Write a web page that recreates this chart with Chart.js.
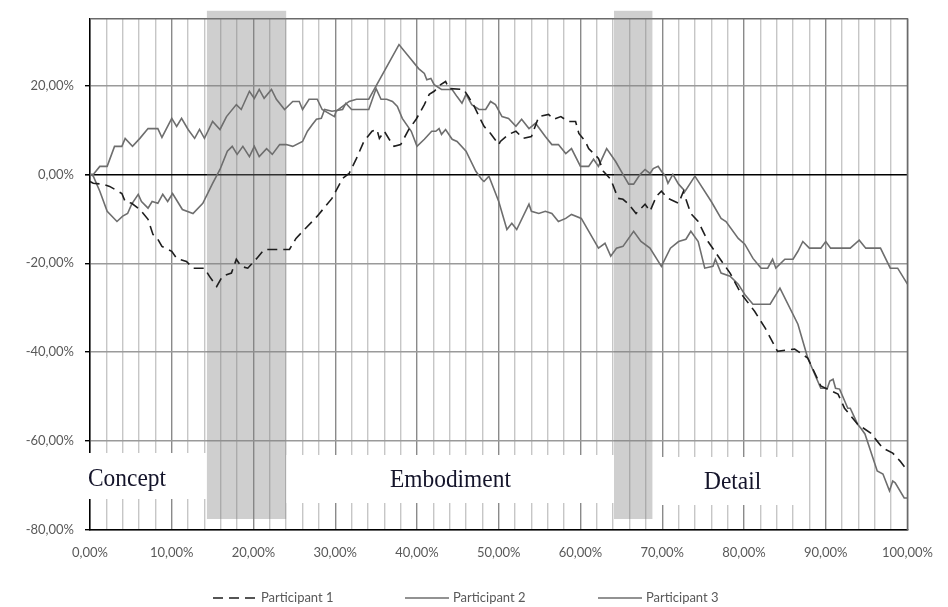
<!DOCTYPE html>
<html lang="en">
<head>
<meta charset="utf-8">
<title>Participants chart</title>
<script src="https://cdn.jsdelivr.net/npm/chart.js"></script>
<style>
  html, body { margin: 0; padding: 0; background: #fff; }
</style>
</head>
<body>
<canvas id="myChart" width="948" height="607"></canvas>
<script>
// series values (x = progress %, y = %)
const p1X = [0,0.4,1.5,2.4,3.9,4.3,5.1,6.1,7.1,7.7,8.3,8.8,10.0,10.6,11.8,12.6,14.0,14.6,15.5,16.2,17.3,17.9,18.5,19.3,20.4,21.3,24.4,25.2,27.8,29.6,30.9,31.7,32.6,33.5,34.5,35.1,35.4,36.0,36.6,37.2,38.0,39.0,39.9,40.9,41.5,42.1,42.9,43.5,43.9,45.7,46.3,47.0,47.6,48.2,49.0,50.0,50.2,51.2,52.1,53.0,54.0,54.9,56.1,56.7,57.6,58.5,59.4,59.8,60.6,61.0,62.2,62.8,63.7,64.6,65.2,65.9,66.8,67.9,68.5,69.3,69.9,70.7,72.0,72.6,72.9,73.5,74.4,75.6,77.1,78.3,79.6,81.3,82.6,84.1,86.2,87.8,89.4,91.5,92.3,93.9,95.5,97.0,98.2,99.1,100];
const p1Y = [-1.6,-2.0,-2.2,-2.7,-4.3,-6.1,-6.5,-7.9,-10.1,-13.5,-14.6,-16.2,-17.3,-18.9,-19.6,-21.1,-21.1,-22.9,-25.2,-22.9,-22.2,-19.1,-20.7,-21.1,-18.9,-16.9,-16.9,-14.4,-9.4,-5.4,-0.9,0.2,3.6,7.4,9.7,10.1,8.1,9.7,7.9,6.3,6.7,10.1,12.4,15.7,18.0,18.7,20.2,20.9,19.3,19.1,17.5,15.3,13.0,10.8,9.2,6.7,7.4,9.0,9.7,8.1,8.5,13.0,13.5,12.4,13.0,11.9,11.9,9.2,7.4,5.8,3.6,0.7,-1.1,-5.4,-5.6,-6.7,-8.8,-6.7,-8.3,-4.9,-3.8,-5.4,-6.5,-3.8,-5.6,-8.8,-10.6,-15.1,-19.1,-22.2,-26.7,-30.8,-34.6,-39.8,-39.3,-41.3,-47.6,-49.4,-52.6,-56.2,-58.2,-61.6,-62.7,-64.5,-66.7];

const p2X = [0,0.4,1.2,2.1,3.3,4.0,4.6,5.1,5.9,6.3,7.1,7.6,8.3,8.9,9.5,10.1,10.7,11.3,12.6,13.8,15.0,15.9,16.8,17.4,18.0,18.7,19.5,20.1,20.7,21.6,22.3,23.2,24.0,24.8,26.0,26.6,27.2,27.7,28.3,28.7,29.6,30.9,31.3,32.0,34.1,35.0,35.6,36.3,37.0,37.6,38.2,39.3,40.0,40.9,41.8,42.3,42.7,43.0,43.5,44.3,44.9,46.0,47.2,47.9,48.2,48.8,50.0,51.0,51.6,52.2,53.7,54.0,54.9,55.7,56.5,57.3,58.2,58.9,60.1,62.2,63.0,63.7,64.4,65.2,66.5,67.4,68.5,69.9,71.0,72.0,72.9,73.5,74.4,75.2,76.2,76.5,77.2,78.3,79.3,80.1,81.1,83.2,84.4,86.6,87.8,89.4,90.2,90.5,90.9,91.2,91.7,92.7,93.0,93.9,94.3,94.8,96.3,97.0,97.8,98.2,98.5,99.6,100];
const p2Y = [0,-0.4,-3.8,-8.3,-10.6,-9.4,-8.8,-6.7,-4.5,-6.1,-7.6,-6.1,-6.5,-4.5,-6.1,-4.3,-6.1,-7.9,-8.8,-6.5,-2.0,1.1,5.2,6.3,4.5,6.3,4.0,6.3,4.0,5.8,4.5,6.7,6.7,6.3,7.4,9.7,11.2,12.4,12.6,14.6,14.2,14.6,16.0,14.6,14.6,19.3,16.9,16.9,16.4,15.3,12.6,9.7,6.3,7.9,9.7,9.7,10.3,9.0,10.1,7.9,7.4,5.2,0.7,-1.1,-1.6,-0.4,-6.1,-12.4,-11.0,-12.4,-6.7,-8.3,-8.8,-8.3,-8.8,-10.6,-9.9,-9.0,-9.9,-16.6,-15.5,-18.4,-16.6,-16.2,-12.8,-15.1,-16.6,-20.7,-16.6,-15.1,-14.6,-12.8,-15.1,-21.1,-20.7,-19.1,-22.2,-22.9,-24.7,-27.0,-29.2,-29.2,-25.6,-33.7,-41.3,-48.1,-48.1,-46.5,-46.1,-48.1,-48.3,-52.6,-52.6,-56.2,-57.1,-58.4,-66.7,-67.4,-71.2,-69.0,-69.4,-72.8,-72.8];

const p3X = [0,0.4,1.2,2.1,3.0,3.9,4.3,5.2,6.1,7.1,8.3,8.8,10.0,10.6,11.2,12.0,12.8,13.4,14.0,15.0,15.9,16.7,17.9,18.5,19.5,20.1,20.7,21.3,22.2,22.8,23.8,24.8,25.6,26.0,26.8,27.8,28.4,29.9,30.1,31.7,32.6,34.1,37.8,40.2,40.9,41.2,41.7,42.1,43.0,44.3,44.9,45.5,46.0,46.7,47.6,48.4,49.0,49.6,50.4,51.2,52.1,52.8,53.7,54.5,55.7,56.5,57.3,58.2,58.9,60.0,61.0,61.6,62.2,63.2,64.3,65.2,65.9,66.5,67.3,67.9,68.5,68.9,69.5,69.9,70.4,70.7,71.3,72.0,72.8,74.0,76.0,77.2,77.8,79.3,80.1,81.1,82.1,82.9,83.5,83.9,85.0,86.0,86.6,87.2,88.0,89.4,90.0,90.6,93.0,94.1,94.9,96.7,97.9,98.8,100];
const p3Y = [0,0,1.8,1.8,6.3,6.3,8.1,6.3,8.1,10.3,10.3,8.3,12.6,10.8,12.6,10.1,8.1,10.1,8.1,11.9,10.1,13.0,15.7,14.6,18.7,17.1,19.1,17.1,19.1,16.9,14.6,16.4,16.4,14.6,16.9,16.9,14.6,13.0,14.2,16.4,16.9,16.9,29.2,23.8,22.7,21.3,21.6,20.2,19.1,19.1,17.5,16.0,18.0,15.7,14.6,14.6,16.4,15.7,13.0,12.6,10.8,12.4,10.3,11.5,8.5,6.7,6.7,4.7,5.8,1.8,1.8,3.4,1.8,5.8,2.9,0,-2.2,-2.2,0,1.1,0.2,1.3,1.8,0.7,-0.4,-2.0,0,-2.2,-3.8,-0.4,-6.1,-9.9,-10.6,-14.4,-15.7,-18.9,-21.1,-21.1,-19.1,-21.1,-19.1,-19.1,-17.3,-15.1,-16.6,-16.6,-15.1,-16.6,-16.6,-14.8,-16.6,-16.6,-21.1,-21.1,-24.7];

const seriesNames = ['Participant 1', 'Participant 2', 'Participant 3'];
const yTicks = [-80, -60, -40, -20, 0, 20];

// phases: shaded transition bands and the phase names
const bandStart = [14.3, 64.1];
const bandEnd = [24.0, 68.8];
const phaseNames = ['Concept', 'Embodiment', 'Detail'];

const pct = v => v.toFixed(2).replace('.', ',') + '%';
const pts = (xs, ys) => xs.map((x, i) => ({ x: x, y: ys[i] }));

const phasePlugin = {
    id: 'phases',
    beforeDatasetsDraw(chart) {
        const { ctx, chartArea: a, scales: { x } } = chart;
        ctx.save();
        // frame top / right
        ctx.strokeStyle = '#6a6a6a';
        ctx.lineWidth = 1.5;
        ctx.beginPath();
        ctx.moveTo(a.left, a.top);
        ctx.lineTo(a.right, a.top);
        ctx.lineTo(a.right, a.bottom);
        ctx.stroke();

        const s0 = x.getPixelForValue(bandStart[0]), e0 = x.getPixelForValue(bandEnd[0]);
        const s1 = x.getPixelForValue(bandStart[1]), e1 = x.getPixelForValue(bandEnd[1]);

        // white label boxes
        ctx.fillStyle = '#fff';
        ctx.fillRect(a.left - 5, a.bottom - 77, s0 - a.left + 5, 46);
        ctx.fillRect(e0, a.bottom - 75, s1 - e0, 48);
        ctx.fillRect(e1, a.bottom - 73, 146, 48);

        // shaded bands
        ctx.fillStyle = 'rgba(130,130,130,0.38)';
        ctx.fillRect(s0, a.top - 8, e0 - s0, a.bottom - a.top - 3);
        ctx.fillRect(s1, a.top - 8, e1 - s1, a.bottom - a.top - 3);

        // phase names
        ctx.fillStyle = '#14142a';
        ctx.font = '26px "Liberation Serif", serif';
        ctx.textBaseline = 'alphabetic';
        const put = (t, px, py) => {
            const w = ctx.measureText(t).width * 0.9;
            ctx.fillText(t, px, py, w);
        };
        put(phaseNames[0], a.left - 2, a.bottom - 44);
        put(phaseNames[1], 390, a.bottom - 43);
        put(phaseNames[2], 704, a.bottom - 41);
        ctx.restore();
    },
    afterDraw(chart) {
        // legend
        const { ctx } = chart;
        const items = [
            { x: 213, text: seriesNames[0], ds: chart.data.datasets[0] },
            { x: 405, text: seriesNames[1], ds: chart.data.datasets[1] },
            { x: 598, text: seriesNames[2], ds: chart.data.datasets[2] }
        ];
        const ly = 598;
        ctx.save();
        ctx.font = '13px Lato, sans-serif';
        ctx.textBaseline = 'middle';
        items.forEach(it => {
            ctx.strokeStyle = it.ds.borderColor;
            ctx.lineWidth = it.ds.borderWidth;
            ctx.setLineDash(it.ds.borderDash || []);
            ctx.beginPath();
            ctx.moveTo(it.x, ly);
            ctx.lineTo(it.x + 44, ly);
            ctx.stroke();
            ctx.setLineDash([]);
            ctx.fillStyle = '#595959';
            ctx.fillText(it.text, it.x + 48, ly);
        });
        ctx.restore();
    }
};

const ctx = document.getElementById('myChart').getContext('2d');
const myChart = new Chart(ctx, {
    type: 'line',
    data: {
        datasets: [{
            label: seriesNames[0],
            data: pts(p1X, p1Y),
            borderColor: '#1e1e1e',
            borderWidth: 1.6,
            borderDash: [10, 6],
            pointRadius: 0,
            tension: 0
        }, {
            label: seriesNames[1],
            data: pts(p2X, p2Y),
            borderColor: '#6e6e6e',
            borderWidth: 1.6,
            pointRadius: 0,
            tension: 0
        }, {
            label: seriesNames[2],
            data: pts(p3X, p3Y),
            borderColor: '#6e6e6e',
            borderWidth: 1.6,
            pointRadius: 0,
            tension: 0
        }]
    },
    options: {
        responsive: false,
        animation: false,
        layout: { padding: { top: 16, right: 35, left: 0, bottom: 0 } },
        scales: {
            x: {
                type: 'linear',
                min: 0,
                max: 100,
                afterFit: s => { s.height = 77; },
                border: { color: '#000', width: 1.5 },
                grid: {
                    drawTicks: false,
                    color: c => (c.tick && Math.abs(c.tick.value % 10) < 0.01) ? '#8a8a8a' : '#c6c6c6',
                    lineWidth: 1.4
                },
                ticks: {
                    stepSize: 2,
                    autoSkip: false,
                    maxTicksLimit: 60,
                    maxRotation: 0,
                    padding: 15,
                    color: '#595959',
                    font: { family: 'Lato', size: 13 },
                    callback: v => (Math.abs(v % 10) < 0.01) ? pct(v) : ''
                }
            },
            y: {
                min: -80,
                max: 35,
                afterFit: s => { s.width = 90; },
                afterBuildTicks: s => { s.ticks = yTicks.map(v => ({ value: v })); },
                border: { color: '#000', width: 1.5 },
                grid: {
                    tickLength: 5,
                    tickColor: '#000',
                    color: c => (c.tick && c.tick.value === 0) ? '#000' : '#9a9a9a',
                    lineWidth: c => (c.tick && c.tick.value === 0) ? 1.6 : 1.4
                },
                ticks: {
                    padding: 11,
                    color: '#595959',
                    font: { family: 'Lato', size: 13 },
                    callback: v => pct(v)
                }
            }
        },
        plugins: {
            legend: { display: false },
            tooltip: { enabled: false }
        }
    },
    plugins: [phasePlugin]
});
</script>
</body>
</html>
